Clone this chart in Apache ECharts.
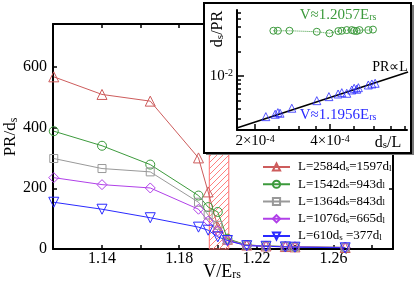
<!DOCTYPE html>
<html><head><meta charset="utf-8">
<script src="https://cdn.jsdelivr.net/npm/echarts@6/dist/echarts.min.js"></script>
<style>html,body{margin:0;padding:0;background:#fff}#c{width:415px;height:291px}</style>
</head><body><div id="c"></div>
<script>
// ---------- main panel data ----------
const vValues   = [1.115, 1.14, 1.165, 1.19, 1.195, 1.2, 1.205, 1.215, 1.225, 1.235, 1.24, 1.266];
const prL2584   = [567, 509, 487, 300, 188, 72, 32, 13, 10, 8, 7, 5];
const prL1542   = [388, 340, 278, 176, 138, 122, 34, 13, 10, 8, 7, 5];
const prL1364   = [298, 265, 254, 154, 112, 78, 30, 13, 10, 8, 7, 5];
const prL1076   = [235, 212, 201, 131, 92, 60, 27, 12, 9, 7, 7, 5];
const prL610    = [154, 131, 103, 72, 62, 40, 28, 11, 9, 7, 6, 4];
const legendNames = ['L=2584ds=1597dl', 'L=1542ds=943dl', 'L=1364ds=843dl', 'L=1076ds=665dl', 'L=610ds=377dl'];
const legendRich  = ['L=2584d{sub|s}=1597d{sub|l}', 'L=1542d{sub|s}=943d{sub|l}', 'L=1364d{sub|s}=843d{sub|l}', 'L=1076d{sub|s}=665d{sub|l}', 'L=610d{sub|s} =377d{sub|l}'];
const vBandLow = 1.1956, vBandHigh = 1.2057;
const xTickValues  = [1.14, 1.16, 1.18, 1.20, 1.22, 1.24, 1.26, 1.28];
const xLabelValues = [1.14, 1.18, 1.22, 1.26];
const yLabelValues = [0, 200, 400, 600];
const xMin = 1.1146, xMax = 1.2908, yMin = 0, yMax = 741;

// ---------- inset data ----------
const insetBlueX  = [2.21e-4, 2.41e-4, 2.47e-4, 2.52e-4, 2.81e-4, 3.54e-4, 3.96e-4, 4.31e-4, 4.46e-4, 4.67e-4, 4.89e-4, 5.00e-4, 5.12e-4, 5.20e-4, 5.70e-4, 5.89e-4, 6.07e-4];
const insetBlueY  = [3.19e-3, 3.41e-3, 3.57e-3, 3.51e-3, 4.04e-3, 5.00e-3, 5.60e-3, 6.03e-3, 6.26e-3, 6.15e-3, 6.75e-3, 7.08e-3, 6.89e-3, 7.20e-3, 7.77e-3, 7.99e-3, 8.15e-3];
const insetGreenX = [2.37e-4, 2.47e-4, 2.75e-4, 3.54e-4, 3.98e-4, 4.32e-4, 4.46e-4, 4.67e-4, 4.89e-4, 5.00e-4, 5.12e-4, 5.25e-4, 5.70e-4, 5.95e-4];
const insetGreenY = [0.0357, 0.0357, 0.0357, 0.0347, 0.0332, 0.0354, 0.0357, 0.0364, 0.0364, 0.0357, 0.0354, 0.0364, 0.0364, 0.0369];
const fitX = [1.69e-4, 8.23e-4];
const fitY = [2.32e-3, 1.12e-2];
const insetXMajor = [2e-4, 4e-4];
const insetXMinor = [2.5e-4, 3e-4, 3.5e-4, 5e-4, 6e-4, 7e-4, 8e-4];
const insetYMajor = [1e-2];
const insetYMinor = [3e-3, 4e-3, 5e-3, 6e-3, 7e-3, 8e-3, 9e-3, 2e-2, 3e-2, 4e-2, 5e-2, 6e-2];
const insetXRange = [1.693e-4, 8.15e-4];
const insetYRange = [2.19e-3, 6.4e-2];

// ---------- rendering ----------
const FONT = 'Liberation Serif';
const lg = v => Math.log10(v);
const COLORS = ['#cd5c5c', '#3c9a3c', '#999999', '#b040e8', '#2a2aff'];
const SYMBOLS = [['triangle', 0, 10], ['circle', 0, 9], ['rect', 0, 8], ['diamond', 0, 10], ['triangle', 180, 10]];
const SERIES_VALUES = [prL2584, prL1542, prL1364, prL1076, prL610];

function hatchPattern() {
  const c = document.createElement('canvas'); c.width = 6; c.height = 6;
  const ctx = c.getContext('2d');
  ctx.strokeStyle = '#ff8080'; ctx.lineWidth = 1;
  ctx.beginPath();
  ctx.moveTo(0, 6); ctx.lineTo(6, 0);
  ctx.moveTo(-1, 1); ctx.lineTo(1, -1);
  ctx.moveTo(5, 7); ctx.lineTo(7, 5);
  ctx.stroke();
  return c;
}

const supRich = { sup: { fontFamily: FONT, fontSize: 10, lineHeight: 4, verticalAlign: 'top' } };

const mainSeries = SERIES_VALUES.map((vals, k) => {
  const s = {
    type: 'line', name: legendNames[k],
    xAxisIndex: 0, yAxisIndex: 0,
    data: vValues.map((v, i) => [v, vals[i]]),
    symbol: SYMBOLS[k][0], symbolRotate: SYMBOLS[k][1], symbolSize: SYMBOLS[k][2],
    lineStyle: { color: COLORS[k], width: 1 },
    itemStyle: { color: 'rgba(255,255,255,0)', borderColor: COLORS[k], borderWidth: 1 },
    emphasis: { disabled: true }, z: 3
  };
  if (k === 0) {
    s.markArea = {
      silent: true,
      itemStyle: { color: { image: hatchPattern(), repeat: 'repeat' }, borderColor: '#ff7070', borderWidth: 1 },
      data: [[{ xAxis: vBandLow }, { xAxis: vBandHigh }]]
    };
  }
  return s;
});

const insetAxisCommon = { gridIndex: 1, type: 'value', z: 20, splitLine: { show: false } };

const option = {
  animation: false,
  backgroundColor: '#fff',
  textStyle: { fontFamily: FONT },
  grid: [
    { left: 53, top: 24, width: 340, height: 225 },
    { left: 237, top: 10, width: 170, height: 120, z: 20 }
  ],
  legend: {
    orient: 'vertical', left: 262, top: 160.5, padding: 0,
    itemWidth: 27, itemHeight: 9, itemGap: 4.25,
    selectedMode: false,
    data: legendNames,
    formatter: name => legendRich[legendNames.indexOf(name)],
    textStyle: {
      fontFamily: FONT, fontSize: 13, color: '#000', lineHeight: 12, padding: [0, 0, 0, 3],
      rich: { sub: { fontFamily: FONT, fontSize: 9, lineHeight: 3, verticalAlign: 'bottom', color: '#000' } }
    }
  },
  xAxis: [
    { type: 'value', gridIndex: 0, min: xMin, max: xMax, position: 'bottom',
      axisLine: { onZero: false, lineStyle: { color: '#000', width: 2 } },
      axisTick: { inside: true, length: 4, customValues: xTickValues, lineStyle: { color: '#000', width: 1.5 } },
      axisLabel: { customValues: xLabelValues, margin: 2, fontFamily: FONT, fontSize: 16, color: '#000',
        formatter: v => v.toFixed(2) },
      splitLine: { show: false } },
    { type: 'value', gridIndex: 0, min: xMin, max: xMax, position: 'top',
      axisLine: { onZero: false, lineStyle: { color: '#000', width: 2 } },
      axisTick: { inside: true, length: 4, customValues: xTickValues, lineStyle: { color: '#000', width: 1.5 } },
      axisLabel: { show: false }, splitLine: { show: false } },
    Object.assign({}, insetAxisCommon, { min: lg(insetXRange[0]), max: lg(insetXRange[1]), position: 'bottom',
      axisLine: { onZero: false, lineStyle: { color: '#000', width: 2 } },
      axisTick: { inside: true, length: 6, customValues: insetXMajor.map(lg), lineStyle: { color: '#000', width: 1.5 } },
      axisLabel: { customValues: insetXMajor.map(lg), margin: 4, fontFamily: FONT, fontSize: 15, color: '#000',
        formatter: v => { const m = Math.pow(10, v); const e = Math.floor(Math.log10(m) + 1e-9); const mant = Math.round(m / Math.pow(10, e)); return mant + '×10{sup|' + e + '}'; },
        rich: supRich } }),
    Object.assign({}, insetAxisCommon, { min: lg(insetXRange[0]), max: lg(insetXRange[1]), position: 'bottom',
      axisLine: { show: false },
      axisTick: { inside: true, length: 4, customValues: insetXMinor.map(lg), lineStyle: { color: '#000', width: 1.5 } },
      axisLabel: { show: false } })
  ],
  yAxis: [
    { type: 'value', gridIndex: 0, min: yMin, max: yMax, position: 'left',
      axisLine: { show: true, onZero: false, lineStyle: { color: '#000', width: 2 } },
      axisTick: { show: true, inside: true, length: 4, customValues: yLabelValues, lineStyle: { color: '#000', width: 1.5 } },
      axisLabel: { customValues: yLabelValues, margin: 6, fontFamily: FONT, fontSize: 16, color: '#000' },
      splitLine: { show: false } },
    { type: 'value', gridIndex: 0, min: yMin, max: yMax, position: 'right',
      axisLine: { show: true, onZero: false, lineStyle: { color: '#000', width: 2 } },
      axisTick: { show: true, inside: true, length: 4, customValues: yLabelValues, lineStyle: { color: '#000', width: 1.5 } },
      axisLabel: { show: false }, splitLine: { show: false } },
    Object.assign({}, insetAxisCommon, { min: lg(insetYRange[0]), max: lg(insetYRange[1]), position: 'left',
      axisLine: { show: true, onZero: false, lineStyle: { color: '#000', width: 2 } },
      axisTick: { show: true, inside: true, length: 7, customValues: insetYMajor.map(lg), lineStyle: { color: '#000', width: 1.5 } },
      axisLabel: { customValues: insetYMajor.map(lg), margin: 4, fontFamily: FONT, fontSize: 15, color: '#000',
        formatter: v => '10{sup|' + Math.round(v) + '}', rich: supRich } }),
    Object.assign({}, insetAxisCommon, { min: lg(insetYRange[0]), max: lg(insetYRange[1]), position: 'left',
      axisLine: { show: false },
      axisTick: { show: true, inside: true, length: 4, customValues: insetYMinor.map(lg), lineStyle: { color: '#000', width: 1.5 } },
      axisLabel: { show: false } })
  ],
  series: mainSeries.concat([
    { type: 'line', name: 'V≈1.2057', xAxisIndex: 2, yAxisIndex: 2, z: 21,
      data: insetGreenX.map((x, i) => [lg(x), lg(insetGreenY[i])]),
      symbol: 'circle', symbolSize: 7,
      lineStyle: { color: '#3c9a3c', width: 1, type: 'dotted' },
      itemStyle: { color: 'rgba(255,255,255,0)', borderColor: '#3c9a3c', borderWidth: 1 },
      emphasis: { disabled: true } },
    { type: 'line', name: 'fit', xAxisIndex: 2, yAxisIndex: 2, z: 21,
      data: fitX.map((x, i) => [lg(x), lg(fitY[i])]),
      showSymbol: false, lineStyle: { color: '#000', width: 1.5 }, emphasis: { disabled: true } },
    { type: 'scatter', name: 'V≈1.1956', xAxisIndex: 2, yAxisIndex: 2, z: 22,
      data: insetBlueX.map((x, i) => [lg(x), lg(insetBlueY[i])]),
      symbol: 'triangle', symbolSize: 8,
      itemStyle: { color: 'rgba(255,255,255,0)', borderColor: '#2a2aff', borderWidth: 1 },
      emphasis: { disabled: true } }
  ]),
  graphic: [
    { type: 'rect', z: 10, shape: { x: 206, y: 5, width: 208, height: 150 }, style: { fill: '#777' } },
    { type: 'rect', z: 11, shape: { x: 204, y: 3, width: 207, height: 150 }, style: { fill: '#fff', stroke: '#000', lineWidth: 2 } },
    { type: 'text', z: 30, x: 338, y: 15,
      style: { text: 'V≈1.2057E{sub|rs}', fill: '#3c9a3c', font: '15px "Liberation Serif"', align: 'center', verticalAlign: 'middle',
        rich: { sub: { fontFamily: FONT, fontSize: 10, lineHeight: 4, verticalAlign: 'bottom', fill: '#3c9a3c' } } } },
    { type: 'text', z: 30, x: 338, y: 115,
      style: { text: 'V≈1.1956E{sub|rs}', fill: '#2a2aff', font: '15px "Liberation Serif"', align: 'center', verticalAlign: 'middle',
        rich: { sub: { fontFamily: FONT, fontSize: 10, lineHeight: 4, verticalAlign: 'bottom', fill: '#2a2aff' } } } },
    { type: 'text', z: 30, x: 390, y: 67,
      style: { text: 'PR∝L', fill: '#000', font: '14px "Liberation Serif"', align: 'center', verticalAlign: 'middle' } },
    { type: 'text', z: 30, x: 218, y: 29, rotation: Math.PI / 2,
      style: { text: 'd{sub|s}/PR', fill: '#000', font: '16px "Liberation Serif"', align: 'center', verticalAlign: 'middle',
        rich: { sub: { fontFamily: FONT, fontSize: 11, lineHeight: 4, verticalAlign: 'bottom', fill: '#000' } } } },
    { type: 'text', z: 30, x: 388, y: 143,
      style: { text: 'd{sub|s}/L', fill: '#000', font: '16px "Liberation Serif"', align: 'center', verticalAlign: 'middle',
        rich: { sub: { fontFamily: FONT, fontSize: 11, lineHeight: 4, verticalAlign: 'bottom', fill: '#000' } } } },
    { type: 'text', z: 30, x: 222, y: 272,
      style: { text: 'V/E{sub|rs}', fill: '#000', font: '18px "Liberation Serif"', align: 'center', verticalAlign: 'middle',
        rich: { sub: { fontFamily: FONT, fontSize: 12, lineHeight: 4, verticalAlign: 'bottom', fill: '#000' } } } },
    { type: 'text', z: 30, x: 11, y: 137, rotation: Math.PI / 2,
      style: { text: 'PR/d{sub|s}', fill: '#000', font: '17px "Liberation Serif"', align: 'center', verticalAlign: 'middle',
        rich: { sub: { fontFamily: FONT, fontSize: 12, lineHeight: 4, verticalAlign: 'bottom', fill: '#000' } } } }
  ]
};

const chart = echarts.init(document.getElementById('c'), null, { renderer: 'canvas', width: 415, height: 291 });
chart.setOption(option);
</script>
</body></html>
